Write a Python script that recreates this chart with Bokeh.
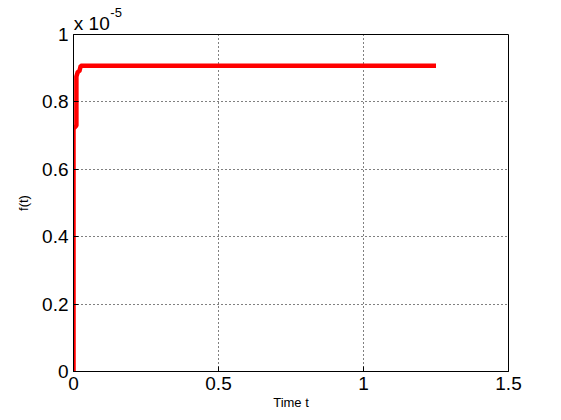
from bokeh.plotting import figure
from bokeh.models import Range1d, FixedTicker, LinearAxis, NumeralTickFormatter
from bokeh.embed import file_html
from bokeh.resources import INLINE

# data (f in units of 1e-5)
t_values = [0, 0, 0.01, 0.01, 0.015, 0.02, 0.025, 1.25]
f_values = [0, 0.72, 0.73, 0.875, 0.89, 0.89, 0.907, 0.907]
x_ticks = [0, 0.5, 1, 1.5]
y_ticks = [0, 0.2, 0.4, 0.6, 0.8, 1]
x_label = "Time t"
y_label = "f(t)"
exp_base = "x 10"
exp_power = "-5"
# horizontal anchors (in t units) of the axis-scale multiplier text
exp_base_at = 0.063
exp_power_at = 0.147

FONT = "Liberation Sans"

p = figure(width=553, height=412, output_backend="svg", toolbar_location=None,
           x_range=Range1d(0, 1.5), y_range=Range1d(0, 1),
           min_border_left=73, min_border_right=45, min_border_top=34, min_border_bottom=38)
p.background_fill_color = "white"
p.border_fill_color = "white"
p.outline_line_color = "black"
p.outline_line_width = 1

p.line(t_values, f_values, line_color="#ff0000", line_width=4.5)

for ax, ticks in ((p.xaxis[0], x_ticks), (p.yaxis[0], y_ticks)):
    ax.ticker = FixedTicker(ticks=ticks)
    ax.formatter = NumeralTickFormatter(format="0.[0]")
    ax.major_tick_in = 5
    ax.major_tick_out = 0
    ax.minor_tick_line_color = None
    ax.axis_line_color = "black"
    ax.major_tick_line_color = "black"
    ax.major_label_text_font = FONT
    ax.major_label_text_font_size = "19px"
    ax.major_label_text_color = "black"
    ax.major_label_standoff = 5
    ax.axis_label_text_font = FONT
    ax.axis_label_text_font_size = "13px"
    ax.axis_label_text_font_style = "normal"
    ax.axis_label_text_color = "black"

p.xaxis[0].axis_label = x_label
p.xaxis[0].axis_label_standoff = 2
p.yaxis[0].axis_label = y_label
p.yaxis[0].axis_label_standoff = 8

# "x 10" and superscript "-5" drawn as labels of tick-less axes above the frame
for txt, at, size, standoff in ((exp_base, exp_base_at, "19px", 1),
                                (exp_power, exp_power_at, "13px", -7)):
    ax = LinearAxis(ticker=FixedTicker(ticks=[at]), major_label_overrides={at: txt},
                    major_tick_line_color=None, axis_line_color=None,
                    minor_tick_line_color=None, major_tick_in=0, major_tick_out=0,
                    major_label_text_font=FONT, major_label_text_font_size=size,
                    major_label_text_color="black", major_label_standoff=standoff)
    p.add_layout(ax, "above")

for g, ticks in ((p.xgrid[0], x_ticks), (p.ygrid[0], y_ticks)):
    g.ticker = FixedTicker(ticks=ticks)
    g.grid_line_color = "black"
    g.grid_line_dash = "1 3"
    g.grid_line_width = 1

open("out.html", "w").write(file_html(p, INLINE))
